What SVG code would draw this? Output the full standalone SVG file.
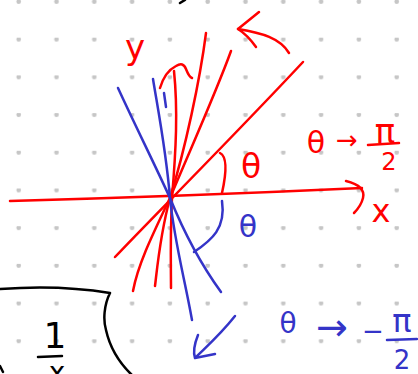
<svg xmlns="http://www.w3.org/2000/svg" width="418" height="374" viewBox="0 0 418 374">
<defs>
<style>
.r{fill:none;stroke:#f00;stroke-width:2.5;stroke-linecap:round;stroke-linejoin:round}
.b{fill:none;stroke:#3434c8;stroke-width:2.5;stroke-linecap:round;stroke-linejoin:round}
.k{fill:none;stroke:#000;stroke-width:2.5;stroke-linecap:round;stroke-linejoin:round}
.tr{fill:#f00;font-family:"DejaVu Sans",sans-serif;text-anchor:middle}
.tb{fill:#3434c8;font-family:"DejaVu Sans",sans-serif;text-anchor:middle}
.tk{fill:#000;font-family:"DejaVu Sans",sans-serif;text-anchor:middle}
</style>
<pattern id="dots" x="0" y="0" width="37.8" height="37.7" patternUnits="userSpaceOnUse">
<circle cx="18.7" cy="1.7" r="2.3" fill="#c6c6c6"/>
</pattern>
</defs>
<rect width="418" height="374" fill="#fff"/>
<rect width="418" height="374" fill="url(#dots)"/>

<g id="red-axes">
<path class="r" d="M10,201 Q190,196 362,188"/>
<path class="r" d="M346,181 Q366,186 363,198 Q361,206 354,213"/>
<path class="r" d="M174,71 C178,110 176,150 172,198 C170,240 171,270 171,288"/>
<path class="r" d="M160,88 C163,78 168,70 176,66 C181,63 184,64 186,69 C188,74 189,77 192,78"/>
<path class="r" d="M115,257 C145,225 230,140 303,62"/>
<path class="r" d="M231,51 C215,95 190,150 170,198 C150,240 138,265 133,291"/>
<path class="r" d="M206,33 C200,80 185,150 170,198 C160,235 157,270 155,286"/>
<path class="r" d="M289,53 C280,38 262,33 238,29"/>
<path class="r" d="M259,12 L238,29 C246,34 251,40 256,47"/>
<path class="r" d="M220,153 C228,157 226,175 222,193"/>
<text class="tr" x="135" y="59" font-size="34">y</text>
<text class="tr" x="381" y="222" font-size="32">x</text>
<text class="tr" x="251" y="178" font-size="33">θ</text>
<text class="tr" x="316" y="153" font-size="30">θ</text>
<text class="tr" x="347" y="149" font-size="26">→</text>
<text class="tr" x="385" y="143" font-size="34">π</text>
<path class="r" d="M368,145 L399,143"/>
<text class="tr" x="389" y="170" font-size="24">2</text>
</g>

<g id="blue-lines">
<path class="b" d="M118,88 C135,125 155,165 170,198 C185,235 205,270 221,292"/>
<path class="b" d="M153,79 C158,110 166,150 170,198 C174,240 185,280 192,320"/>
<path class="b" d="M164,93 L166,107"/>
<path class="b" d="M222,201 C226,228 212,240 194,252"/>
<path class="b" d="M235,316 C220,335 205,348 196,357"/>
<path class="b" d="M198,335 C194,345 193,352 195,358 L215,354"/>
<text class="tb" x="248" y="237" font-size="30">θ</text>
<text class="tb" x="288" y="333" font-size="28">θ</text>
<text class="tb" x="332" y="340" font-size="38">→</text>
<text class="tb" x="373" y="340" font-size="26">−</text>
<text class="tb" x="402" y="332" font-size="32">π</text>
<path class="b" d="M387,340 L417,339"/>
<text class="tb" x="402" y="369" font-size="26">2</text>
</g>

<g id="black-box">
<path class="k" d="M0,289 C40,286 80,288 110,293 C104,305 103,320 106,330 C110,348 118,362 133,376"/>
<path class="k" d="M180,3 L185,0"/>
<path class="k" d="M0,366 L3,372"/>
<text class="tk" x="55" y="348" font-size="36">1</text>
<path class="k" d="M38,357 L62,356"/>
<text class="tk" x="57" y="382" font-size="28">x</text>
</g>
</svg>
